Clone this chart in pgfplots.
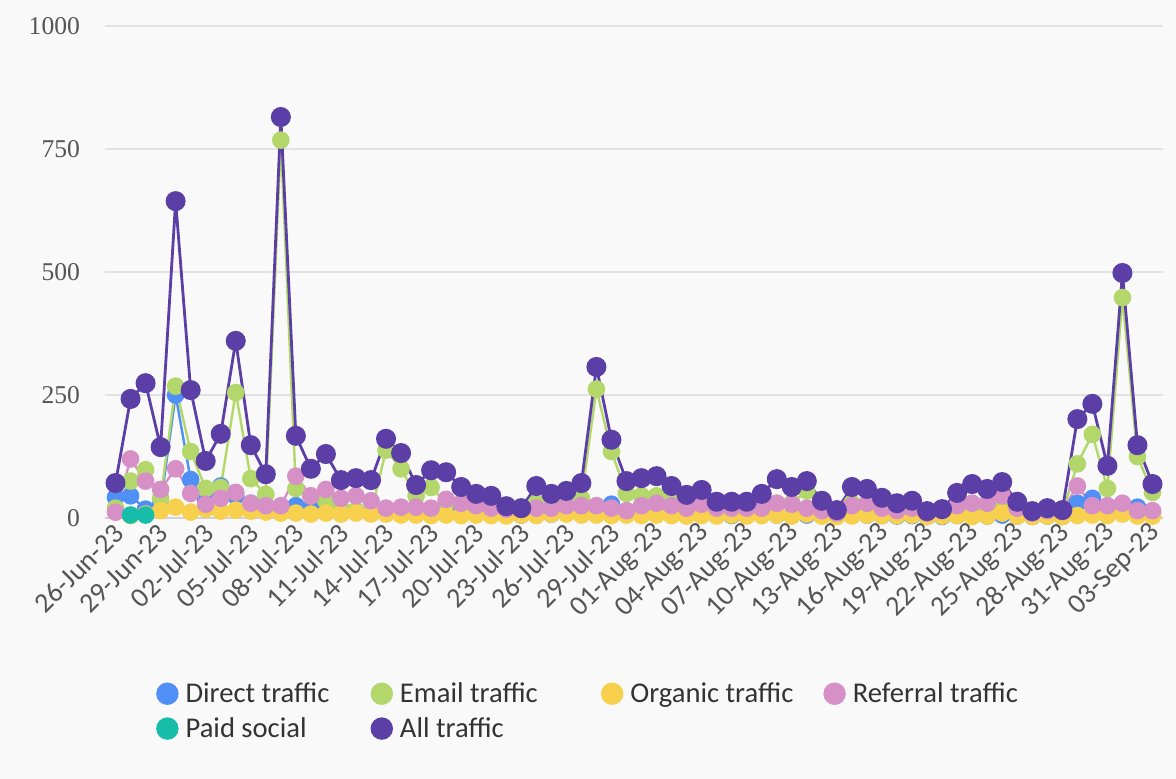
\documentclass[border=0pt]{standalone}
\usepackage{pgfplots}
\pgfplotsset{compat=1.18}
\usepackage{pgfplotstable}
\usepackage{fontspec}
\setmainfont{Carlito}
\newfontfamily\serifnum{Liberation Serif}
\definecolor{bgc}{HTML}{F9F9F9}
\definecolor{gridc}{HTML}{E2E2E2}
\definecolor{axisc}{HTML}{CDD1DC}
\definecolor{tickc}{HTML}{555555}
\definecolor{textc}{HTML}{333333}
\definecolor{dcol}{HTML}{4F8FF6}
\definecolor{ecol}{HTML}{B3D76A}
\definecolor{ocol}{HTML}{F7D04E}
\definecolor{rcol}{HTML}{D690C6}
\definecolor{pcol}{HTML}{17BDA9}
\definecolor{acol}{HTML}{5B3FA6}
\pgfplotstableread{
x d e o r a
0 42 20 12 12 71
1 45 75 5 120 242
2 18 98 8 75 274
3 28 40 15 58 144
4 250 268 22 100 644
5 78 135 12 50 260
6 35 60 18 28 116
7 65 62 14 40 171
8 45 255 16 52 360
9 30 80 14 30 148
10 25 48 12 25 89
11 20 768 10 25 815
12 25 60 10 85 167
13 22 45 8 45 100
14 25 35 10 58 130
15 15 20 8 40 77
16 12 15 10 45 81
17 10 10 8 35 77
18 10 138 8 20 161
19 12 100 6 22 132
20 8 45 6 22 67
21 10 62 5 20 97
22 8 30 6 38 93
23 15 30 5 30 63
24 10 25 6 25 49
25 12 20 5 20 45
26 8 15 4 18 24
27 6 12 6 18 20
28 10 30 5 20 65
29 8 30 8 20 49
30 10 35 8 25 55
31 8 40 6 25 71
32 10 262 6 25 307
33 28 135 5 20 159
34 10 50 6 15 75
35 8 45 5 25 81
36 8 45 6 30 85
37 6 35 5 25 65
38 8 30 4 20 47
39 6 35 5 28 57
40 5 20 4 20 33
41 5 20 6 20 33
42 5 20 4 20 33
43 8 25 5 20 49
44 6 30 6 30 79
45 5 30 4 28 63
46 6 55 8 20 75
47 5 20 4 15 35
48 4 10 3 10 16
49 8 30 4 25 63
50 6 25 6 30 59
51 5 20 5 20 41
52 4 15 5 15 30
53 5 15 6 20 35
54 3 10 3 10 14
55 3 10 4 15 18
56 5 15 5 25 51
57 4 15 3 30 69
58 4 15 4 30 59
59 6 25 10 45 73
60 4 10 4 20 33
61 3 5 3 10 14
62 4 10 4 15 20
63 3 10 3 15 16
64 30 110 5 65 201
65 40 170 6 25 232
66 15 60 5 25 106
67 25 448 8 30 498
68 22 125 4 15 148
69 10 52 4 15 69
}\traffic
\begin{document}
\begin{tikzpicture}
\useasboundingbox (0,0) rectangle (588pt,389.5pt);
\fill[bgc] (0,0) rectangle (588pt,389.5pt);
\begin{axis}[
  at={(52.5pt,130.5pt)}, anchor=south west,
  scale only axis, width=529pt, height=246pt,
  xmin=-0.7, xmax=69.7, ymin=0, ymax=1000,
  ytick={0,250,500,750,1000},
  yticklabels={0,250,500,750,1000},
  xtick={0,3,...,69},
  xticklabels={26-Jun-23,29-Jun-23,02-Jul-23,05-Jul-23,08-Jul-23,11-Jul-23,14-Jul-23,17-Jul-23,20-Jul-23,23-Jul-23,26-Jul-23,29-Jul-23,01-Aug-23,04-Aug-23,07-Aug-23,10-Aug-23,13-Aug-23,16-Aug-23,19-Aug-23,22-Aug-23,25-Aug-23,28-Aug-23,31-Aug-23,03-Sep-23},
  ymajorgrids, grid style={gridc, line width=0.6pt},
  axis lines*=left,
  y axis line style={draw=none},
  x axis line style={axisc, line width=1pt},
  major tick length=0pt,
  yticklabel style={font=\fontsize{12.8}{14}\serifnum, text=tickc, xshift=-9pt},
  xticklabel style={font=\fontsize{14}{15}\selectfont, text=tickc, xshift=4pt, yshift=-3pt, rotate=45, anchor=east},
  every axis plot/.append style={line width=1.2pt, mark=*, mark size=3.8pt},
  legend style={draw=none, fill=none, at={(0.048,-0.325)}, anchor=north west,
    font=\fontsize{14.3}{16}\selectfont, text=textc,
    /tikz/every odd column/.append style={column sep=1.5pt},
    /tikz/every even column/.append style={column sep=4pt},
    row sep=2pt, inner sep=0pt, nodes={inner sep=2pt, anchor=west}},
  legend columns=4,
]
\addlegendimage{legend image code/.code={\fill[dcol] (0pt,0pt) circle (5pt);}}
\addlegendentry{\makebox[86.5pt][l]{Direct traffic}}
\addlegendimage{legend image code/.code={\fill[ecol] (0pt,0pt) circle (5pt);}}
\addlegendentry{\makebox[94.5pt][l]{Email traffic}}
\addlegendimage{legend image code/.code={\fill[ocol] (0pt,0pt) circle (5pt);}}
\addlegendentry{\makebox[90.5pt][l]{Organic traffic}}
\addlegendimage{legend image code/.code={\fill[rcol] (0pt,0pt) circle (5pt);}}
\addlegendentry{Referral traffic}
\addlegendimage{legend image code/.code={\fill[pcol] (0pt,0pt) circle (5pt);}}
\addlegendentry{\makebox[86.5pt][l]{Paid social}}
\addlegendimage{legend image code/.code={\fill[acol] (0pt,0pt) circle (5pt);}}
\addlegendentry{\makebox[94.5pt][l]{All traffic}}
\addplot[dcol, mark options={fill=dcol, draw=dcol}, forget plot] table[x=x, y=d] {\traffic};
\addplot[ecol, mark options={fill=ecol, draw=ecol}, forget plot] table[x=x, y=e] {\traffic};
\addplot[ocol, mark options={fill=ocol, draw=ocol}, forget plot] table[x=x, y=o] {\traffic};
\addplot[rcol, mark options={fill=rcol, draw=rcol}, forget plot] table[x=x, y=r] {\traffic};
\addplot[pcol, mark options={fill=pcol, draw=pcol}, forget plot] coordinates {(1,6) (2,6)};
\addplot[acol, line width=1.4pt, mark size=4.3pt, mark options={fill=acol, draw=acol}, forget plot] table[x=x, y=a] {\traffic};
\end{axis}
\end{tikzpicture}
\end{document}
